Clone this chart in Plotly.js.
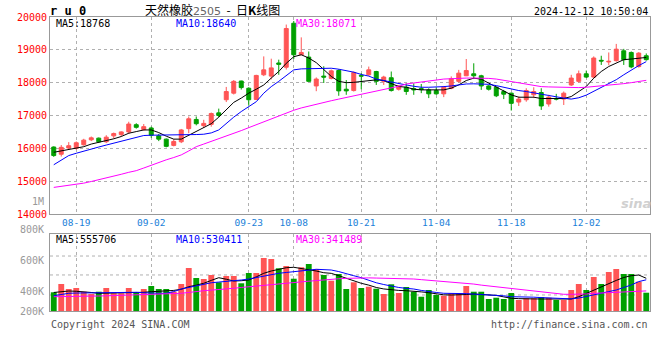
<!DOCTYPE html>
<html><head><meta charset="utf-8">
<script src="https://cdn.plot.ly/plotly-3.0.1.min.js"></script>
<style>html,body{margin:0;padding:0;background:#fff}#chart{width:660px;height:360px}</style>
</head><body><div id="chart"></div>
<script>
const dates = [
'2024-08-14','2024-08-15','2024-08-16','2024-08-19','2024-08-20','2024-08-21','2024-08-22','2024-08-23','2024-08-26','2024-08-27','2024-08-28','2024-08-29','2024-08-30',
'2024-09-02','2024-09-03','2024-09-04','2024-09-05','2024-09-06','2024-09-09','2024-09-10','2024-09-11','2024-09-12','2024-09-13','2024-09-18','2024-09-19','2024-09-20','2024-09-23','2024-09-24','2024-09-25','2024-09-26','2024-09-27','2024-09-30',
'2024-10-08','2024-10-09','2024-10-10','2024-10-11','2024-10-14','2024-10-15','2024-10-16','2024-10-17','2024-10-18','2024-10-21','2024-10-22','2024-10-23','2024-10-24','2024-10-25','2024-10-28','2024-10-29','2024-10-30','2024-10-31',
'2024-11-01','2024-11-04','2024-11-05','2024-11-06','2024-11-07','2024-11-08','2024-11-11','2024-11-12','2024-11-13','2024-11-14','2024-11-15','2024-11-18','2024-11-19','2024-11-20','2024-11-21','2024-11-22','2024-11-25','2024-11-26','2024-11-27','2024-11-28','2024-11-29',
'2024-12-02','2024-12-03','2024-12-04','2024-12-05','2024-12-06','2024-12-09','2024-12-10','2024-12-11','2024-12-12'];

const openP = [16040,15820,16010,16000,16110,16260,16310,16200,16380,16420,16500,16720,16570,16620,16380,16280,16090,16200,16600,16880,16690,16730,17080,17480,17680,18050,17830,17490,18240,18200,18600,18470,19810,18850,18780,17900,18200,18130,18370,17800,17760,18220,18240,18340,18040,18150,17800,17860,17820,17820,17780,17760,17660,17830,18040,18210,18270,18210,17900,17860,17730,17680,17410,17480,17630,17700,17350,17520,17500,17930,18040,18270,18170,18680,18630,18670,18970,18920,18490,18820];
const highP = [16060,16100,16190,16210,16290,16360,16330,16400,16480,16520,16810,16765,16740,16660,16440,16300,16280,16590,16970,16970,16870,17090,17210,17870,18080,18060,17860,18240,18800,18730,18700,19770,19880,19380,18950,18160,18500,18400,18410,18080,18340,18290,18490,18360,18210,18340,17930,17980,17980,17960,17830,17860,17900,18190,18390,18720,18590,18240,17930,17880,17780,17700,17580,17830,17860,17830,17630,17660,17730,18240,18370,18370,18800,18820,18920,19180,19030,18950,18930,18890];
const lowP = [15740,15750,15950,15960,16080,16220,16170,16160,16300,16360,16440,16600,16540,16320,16220,16030,16060,16160,16460,16700,16620,16660,16950,17410,17640,17790,17300,17480,18200,18100,18240,18400,18720,18840,18030,17740,17990,18100,17600,17630,17730,17800,18210,17930,17930,17730,17760,17630,17630,17680,17530,17630,17560,17800,18000,18200,18110,17780,17760,17560,17500,17150,17290,17420,17530,17170,17270,17460,17320,17900,18000,18140,18140,18540,18530,18640,18540,18440,18460,18670];
const closeP = [15780,16030,16080,16170,16250,16320,16200,16340,16450,16500,16740,16640,16660,16400,16280,16060,16210,16560,16900,16750,16760,17060,17000,17730,18040,17850,17480,18220,18390,18450,18560,19650,18850,18920,18040,18110,18170,18360,17750,17750,18310,18200,18390,18040,18170,17760,17900,17730,17780,17790,17660,17660,17860,18120,18290,18370,18210,17900,17800,17600,17650,17370,17500,17760,17730,17290,17560,17500,17680,18140,18270,18170,18750,18660,18650,19020,18700,18480,18900,18700];
const volume = [318000,459000,374000,391000,328000,289000,328000,391000,301000,301000,391000,311000,374000,425000,374000,374000,328000,459000,731000,561000,544000,612000,488000,595000,595000,471000,646000,646000,901000,884000,726000,765000,549000,743000,799000,714000,612000,515000,629000,374000,488000,391000,413000,379000,289000,454000,306000,408000,328000,243000,357000,272000,260000,301000,301000,425000,328000,328000,204000,226000,204000,306000,187000,216000,216000,238000,226000,187000,187000,357000,459000,357000,578000,459000,663000,714000,629000,629000,498000,311000];

const ma5 = [15880,15920,15970,16000,16050,16130,16180,16230,16290,16360,16460,16510,16560,16560,16480,16370,16280,16280,16400,16520,16640,16750,16950,17170,17400,17530,17680,17800,17930,18140,18340,18590,18790,18850,18750,18610,18410,18190,18040,18000,18010,18035,18055,18086,18065,17964,17882,17862,17801,17781,17781,17760,17781,17832,17933,18065,18137,18106,17984,17862,17730,17628,17557,17557,17557,17517,17517,17517,17517,17578,17730,17882,18137,18340,18492,18600,18700,18720,18750,18768];
const ma10 = [15500,15640,15780,15850,15920,15980,16040,16100,16160,16220,16280,16330,16390,16400,16400,16400,16400,16400,16410,16420,16430,16470,16560,16760,16950,17120,17270,17420,17680,17880,18040,18220,18390,18420,18420,18420,18430,18440,18410,18370,18320,18250,18200,18110,18060,18010,17970,17930,17890,17860,17860,17860,17880,17900,17930,17960,17965,17965,17950,17910,17860,17800,17760,17730,17700,17650,17610,17560,17530,17500,17540,17620,17740,17860,17970,18090,18240,18390,18520,18640];
const ma30 = [14810,14840,14860,14890,14940,14990,15040,15100,15160,15210,15270,15320,15400,15490,15570,15650,15720,15800,15920,16050,16130,16210,16280,16360,16450,16540,16630,16720,16820,16900,16980,17080,17160,17230,17290,17340,17400,17450,17500,17550,17600,17640,17690,17730,17780,17830,17890,17960,17990,18030,18060,18090,18110,18120,18135,18140,18140,18140,18130,18110,18070,18030,17990,17940,17910,17880,17870,17860,17850,17850,17850,17860,17880,17900,17910,17940,17970,18000,18040,18071];

const vma5 = [315000,330000,340000,335000,328000,315000,300000,303000,306000,306000,306000,306000,318000,328000,335000,340000,350000,370000,413000,440000,471000,520000,566000,540000,510000,515000,527000,580000,641000,680000,710000,736000,743000,725000,709000,680000,651000,640000,600000,556000,510000,471000,440000,400000,375000,360000,350000,345000,340000,325000,311000,295000,275000,272000,272000,280000,289000,285000,275000,265000,240000,216000,210000,204000,204000,204000,204000,204000,204000,204000,243000,300000,357000,410000,471000,520000,570000,600000,612000,555706];
const vma10 = [260000,280000,301000,305000,308000,310000,311000,313000,315000,316000,317000,318000,310000,301000,301000,301000,330000,374000,400000,420000,450000,480000,492000,500000,510000,527000,544000,570000,600000,620000,641000,655000,665000,680000,695000,709000,705000,697000,670000,641000,600000,566000,520000,480000,450000,420000,400000,385000,374000,350000,328000,315000,301000,301000,301000,295000,287000,280000,276000,272000,258000,243000,243000,243000,235000,228000,222000,218000,216000,206000,220000,243000,270000,301000,330000,357000,400000,442000,500000,530411];
const vma30 = [243000,243000,243000,246000,249000,252000,255000,258000,262000,265000,268000,272000,276000,280000,285000,289000,295000,301000,315000,335000,345000,355000,362000,375000,386000,400000,413000,425000,440000,450000,459000,470000,485000,497000,507000,517000,530000,540000,548000,555000,560000,566000,563000,560000,558000,556000,552000,548000,544000,533000,522000,510000,503000,495000,488000,473000,458000,440000,425000,413000,400000,386000,370000,355000,336000,318000,305000,292000,284000,284000,284000,290000,300000,305000,311000,317000,325000,332000,337000,341489];

const priceTicks = [14000,15000,16000,17000,18000,19000,20000];
const priceTickText = ['14000','15000','16000','17000','18000','19000','20000'];
const tickDates = ['2024-08-19','2024-09-02','2024-09-23','2024-10-08','2024-10-21','2024-11-04','2024-11-18','2024-12-02'];
const tickLabels = ['08-19','09-02','09-23','10-08','10-21','11-04','11-18','12-02'];
const volLabels = ['800K','600K','400K','200K'];

const RED = '#ff5555', GREEN = '#00a000';
const MONO = 'DejaVu Sans Mono';
const px = v => v / 660, py = v => 1 - v / 360;

const volColors = closeP.map((c, i) => c > openP[i] ? RED : GREEN);
const last = a => a[a.length - 1];

const traces = [
  {type:'candlestick', x:dates, open:openP, high:highP, low:lowP, close:closeP, xaxis:'x', yaxis:'y',
   increasing:{line:{color:RED,width:1}, fillcolor:RED},
   decreasing:{line:{color:GREEN,width:1}, fillcolor:GREEN},
   whiskerwidth:0, hoverinfo:'skip', showlegend:false},
  {type:'scatter', mode:'lines', x:dates, y:ma5, line:{color:'#000000',width:1}, xaxis:'x', yaxis:'y', hoverinfo:'skip', showlegend:false},
  {type:'scatter', mode:'lines', x:dates, y:ma10, line:{color:'#0000ff',width:1}, xaxis:'x', yaxis:'y', hoverinfo:'skip', showlegend:false},
  {type:'scatter', mode:'lines', x:dates, y:ma30, line:{color:'#ff00ff',width:1}, xaxis:'x', yaxis:'y', hoverinfo:'skip', showlegend:false},
  {type:'bar', x:dates, y:volume, marker:{color:volColors, line:{width:0}}, xaxis:'x2', yaxis:'y2', hoverinfo:'skip', showlegend:false},
  {type:'scatter', mode:'lines', x:dates, y:vma5, line:{color:'#000000',width:1}, xaxis:'x2', yaxis:'y2', hoverinfo:'skip', showlegend:false},
  {type:'scatter', mode:'lines', x:dates, y:vma10, line:{color:'#0000ff',width:1}, xaxis:'x2', yaxis:'y2', hoverinfo:'skip', showlegend:false},
  {type:'scatter', mode:'lines', x:dates, y:vma30, line:{color:'#ff00ff',width:1}, xaxis:'x2', yaxis:'y2', hoverinfo:'skip', showlegend:false}
];

const ann = (x, y, text, color, size, anchor, extra) => Object.assign({
  xref:'paper', yref:'paper', x:px(x), y:py(y), text:text, showarrow:false,
  xanchor:anchor || 'left', yanchor:'middle',
  font:{family:MONO, size:size || 10, color:color}
}, extra || {});

const annotations = [
  ann(212, 9, '天然橡胶<span style="color:#666;font-family:DejaVu Sans;font-size:11px">2505</span>  -  日<b>K</b>线图', '#000', 12, 'center', {font:{family:'Noto Sans CJK SC', size:12, color:'#000'}}),
  ann(48, 11, '<b>r u 0</b>', '#000', 12, 'left'),
  ann(650, 12, '2024-12-12 10:50:04', '#000', 10, 'right'),
  ann(46, 201, '1M', '#999', 10, 'right'),
  ann(54, 23, 'MA5:' + last(ma5), '#000', 10),
  ann(174, 23, 'MA10:' + last(ma10), '#0000ff', 10),
  ann(294, 23, 'MA30:' + last(ma30), '#ff00ff', 10),
  ann(54, 239, 'MA5:' + last(vma5), '#000', 10),
  ann(174, 239, 'MA10:' + last(vma10), '#0000ff', 10),
  ann(294, 239, 'MA30:' + last(vma30), '#ff00ff', 10),
  ann(49, 324, 'Copyright 2024 SINA.COM', '#555', 10),
  ann(650, 324, 'http://finance.sina.com.cn', '#555', 10, 'right'),
  ann(636, 203, '<b><i>sina</i></b>', '#d0d0d0', 13, 'center', {font:{family:'DejaVu Sans', size:13, color:'#d0d0d0'}})
];
const volLabelY = [230, 260, 291, 311];
volLabels.forEach((t, i) => annotations.push(ann(46, volLabelY[i], t, '#999', 10, 'right')));

const volGrid = [0.208, 0.468, 0.714].map(f => ({
  type:'line', xref:'x2 domain', yref:'y2 domain', x0:0, x1:1, y0:f, y1:f,
  line:{color:'#b0b0b0', width:1, dash:'dot'}, layer:'below'
}));

const axisLine = {showline:true, mirror:true, linecolor:'#999999', linewidth:1};
const layout = {
  width:660, height:360, margin:{l:0, r:0, t:0, b:0},
  paper_bgcolor:'#ffffff', plot_bgcolor:'#ffffff',
  showlegend:false, bargap:0.22, boxgap:0.25,
  xaxis: Object.assign({domain:[px(50), px(650)], anchor:'y', type:'category', range:[-0.5, dates.length - 0.5],
    tickvals:tickDates, ticktext:tickLabels, tickfont:{family:MONO, size:9.5, color:'#1a7fd9'},
    showgrid:true, gridcolor:'#b0b0b0', griddash:'dot', gridwidth:1, ticks:'', rangeslider:{visible:false}, fixedrange:true}, axisLine),
  yaxis: Object.assign({domain:[py(214), py(17)], anchor:'x', range:[14000, 20000],
    tickvals:priceTicks, ticktext:priceTickText, tickfont:{family:MONO, size:10, color:'#ff0000'},
    showgrid:true, gridcolor:'#b0b0b0', griddash:'dot', zeroline:false, ticks:'', fixedrange:true}, axisLine),
  xaxis2: Object.assign({domain:[px(50), px(650)], anchor:'y2', type:'category', matches:'x', range:[-0.5, dates.length - 0.5],
    tickvals:tickDates, showticklabels:false, showgrid:true, gridcolor:'#b0b0b0', griddash:'dot', ticks:'', fixedrange:true}, axisLine),
  yaxis2: Object.assign({domain:[py(311), py(234)], anchor:'x2', range:[0, 1309000],
    showticklabels:false, showgrid:false, zeroline:false, ticks:'', fixedrange:true}, axisLine),
  annotations: annotations,
  shapes: volGrid
};

Plotly.newPlot('chart', traces, layout, {staticPlot:true, displayModeBar:false});
</script>
</body></html>
